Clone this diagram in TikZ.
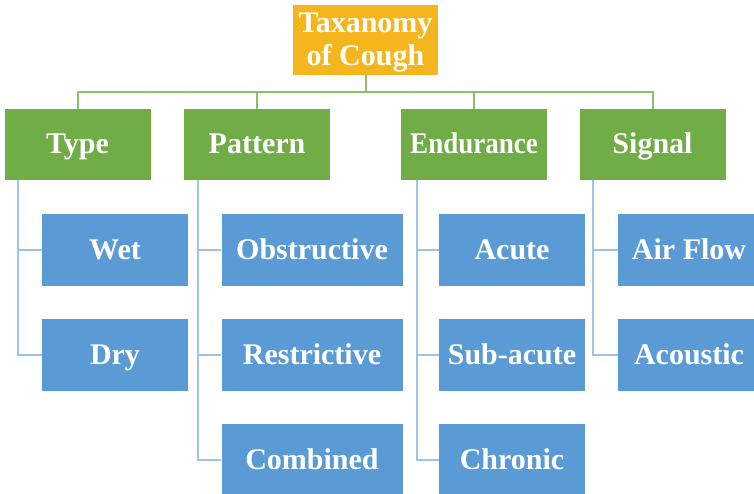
\documentclass[tikz,border=0pt]{standalone}
\usepackage{fontspec}
\setmainfont{Liberation Serif}
\newfontfamily\condserif[FakeStretch=0.9]{Liberation Serif}
\definecolor{rootc}{HTML}{F4B61C}
\definecolor{grn}{HTML}{70AD47}
\definecolor{blu}{HTML}{5B9BD5}
\definecolor{gline}{HTML}{8DBF6A}
\definecolor{bline}{HTML}{9DC3E6}
\begin{document}
\begin{tikzpicture}[x=1pt,y=-1pt,
  box/.style={draw=none,inner sep=0pt,text=white,font=\fontsize{30}{33}\selectfont\bfseries,align=center,text height=21pt,text depth=3pt},
  rootbox/.style={draw=none,inner sep=0pt,fill=rootc,minimum width=145pt,minimum height=70pt},
  roottext/.style={inner sep=0pt,text=white,font=\fontsize{30}{33}\selectfont\bfseries,align=center},
  catbox/.style={box,fill=grn,minimum width=146pt,minimum height=71pt},
  leafbox/.style={box,fill=blu,minimum width=146pt,minimum height=72pt},
  gconn/.style={draw=gline,line width=2pt},
  bconn/.style={draw=bline,line width=2pt}]
\useasboundingbox (0,0) rectangle (754,493);
\clip (0,0) rectangle (754,493);
\node[rootbox] (root) at (365.5,40) {};
\node[roottext] (roottxt) at (365.5,42.5) {Taxanomy\\of Cough};
\node[catbox] (type) at (77.5,144.5) {Type};
\node[catbox] (pattern) at (257,144.5) {Pattern};
\node[catbox,font=\condserif\fontsize{30}{33}\selectfont\bfseries] (endur) at (474,144.5) {Endurance};
\node[catbox] (signal) at (652.5,144.5) {Signal};
% leaves
\node[leafbox] (wet) at (115,250) {Wet};
\node[leafbox] (dry) at (115,355) {Dry};
\node[leafbox,minimum width=181pt] (obs) at (312,250) {Obstructive};
\node[leafbox,minimum width=181pt] (res) at (312,355) {Restrictive};
\node[leafbox,minimum width=181pt] (com) at (312,460) {Combined};
\node[leafbox] (acu) at (512,250) {Acute};
\node[leafbox] (sub) at (512,355) {Sub-acute};
\node[leafbox] (chr) at (512,460) {Chronic};
\node[leafbox,minimum width=142pt] (air) at (689,250) {Air Flow};
\node[leafbox,minimum width=142pt] (aco) at (689,355) {Acoustic};
% top bus
\coordinate (bus) at (365.5,92);
\draw[gconn] (root.south) -- (bus);
\draw[gconn] (type.north) |- (bus) -| (signal.north);
\draw[gconn] (pattern.north) -- (pattern.north |- bus);
\draw[gconn] (endur.north) -- (endur.north |- bus);
% child connectors
\coordinate (tl) at (18,180);
\coordinate (pl) at (198,180);
\coordinate (el) at (417,180);
\coordinate (sl) at (593,180);
\draw[bconn] (tl) |- (dry.west);
\draw[bconn] (tl |- wet.west) -- (wet.west);
\draw[bconn] (pl) |- (com.west);
\draw[bconn] (pl |- obs.west) -- (obs.west);
\draw[bconn] (pl |- res.west) -- (res.west);
\draw[bconn] (el) |- (chr.west);
\draw[bconn] (el |- acu.west) -- (acu.west);
\draw[bconn] (el |- sub.west) -- (sub.west);
\draw[bconn] (sl) |- (aco.west);
\draw[bconn] (sl |- air.west) -- (air.west);
\end{tikzpicture}
\end{document}
